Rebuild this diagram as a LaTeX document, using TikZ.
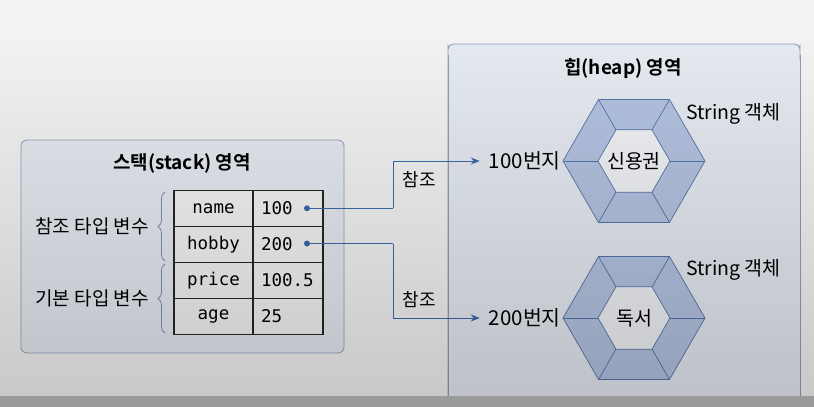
\documentclass[tikz,border=0pt]{standalone}
\usepackage{fontspec}
\setmainfont{Noto Sans CJK KR}[BoldFont={Noto Sans CJK KR Bold}]
\setmonofont{DejaVu Sans Mono}
\usetikzlibrary{decorations.pathreplacing,arrows.meta,fadings}
\definecolor{bgc}{HTML}{F2F2F2}
\definecolor{boxfill}{HTML}{E5E9F0}
\definecolor{boxline}{HTML}{8C9CB8}
\definecolor{ringfill}{HTML}{B3C2E0}
\definecolor{hexline}{HTML}{5574A6}
\definecolor{hexin}{HTML}{EFF1F4}
\definecolor{refblue}{HTML}{3A6AA8}
\definecolor{bracec}{HTML}{8090A8}
\definecolor{stripc}{HTML}{9A9A9A}
\tikzfading[name=fadedown, top color=transparent!100, bottom color=transparent!0]
\tikzset{
  area/.style={draw=boxline, fill=boxfill, rounded corners=6pt, line width=0.8pt},
  title/.style={font=\fontsize{19}{22}\selectfont\bfseries},
  cell/.style={draw=black!85, line width=1.1pt, fill=bgc, minimum height=36pt, inner sep=0pt, outer sep=0pt, font=\ttfamily\fontsize{17.5}{20}\selectfont},
  kcell/.style={cell, minimum width=79pt},
  vcell/.style={cell, text width=54pt, inner xsep=8pt, align=left},
  lbl/.style={font=\fontsize{19}{22}\selectfont, inner sep=0pt},
  rlbl/.style={font=\fontsize{18}{21}\selectfont, inner sep=0pt},
  hlbl/.style={font=\fontsize{19.5}{22}\selectfont, inner sep=0pt},
  alb/.style={font=\fontsize{20.5}{23}\selectfont, inner sep=0pt},
  hexst/.style={draw=hexline, line width=0.7pt},
  refline/.style={draw=refblue, line width=0.9pt},
  reftip/.style={refline, -{Stealth[length=9pt,width=7pt]}},
  dotst/.style={circle, fill=refblue, inner sep=0pt, minimum size=6pt},
  bracest/.style={draw=bracec, line width=0.8pt, decorate, decoration={brace, amplitude=7pt}},
}
\newcommand{\hexring}[2]{%
  \fill[ringfill] (#1) ++(0:71) \foreach \a in {60,120,...,300}{ -- ([shift={(#1)}]\a:71) } -- cycle;
  \foreach \a in {0,60,...,300}{ \draw[hexst] ([shift={(#1)}]\a:36) -- ([shift={(#1)}]\a:71); }
  \draw[hexst, fill=hexin] ([shift={(#1)}]0:36) \foreach \a in {60,120,...,300}{ -- ([shift={(#1)}]\a:36) } -- cycle;
  \draw[hexst] ([shift={(#1)}]0:71) \foreach \a in {60,120,...,300}{ -- ([shift={(#1)}]\a:71) } -- cycle;
  \node[hlbl] (#2) at (#1) {};
}
\begin{document}
\begin{tikzpicture}[x=1pt,y=-1pt]
\useasboundingbox (0,0) rectangle (814,407);
\fill[bgc] (0,0) rectangle (814,407);

% stack area
\draw[area] (21,140) rectangle (344,353);
\node[title] (stitle) at (182,163) {스택(stack) 영역};

% table
\node[kcell] (k1) at (213.5,208.5) {name};
\node[kcell] (k2) at (213.5,244.5) {hobby};
\node[kcell] (k3) at (213.5,280.5) {price};
\node[kcell] (k4) at (213.5,316.5) {age};
\node[vcell] (v1) at (288,208.5) {100};
\node[vcell] (v2) at (288,244.5) {200};
\node[vcell] (v3) at (288,280.5) {100.5};
\node[vcell] (v4) at (288,316.5) {25};

% braces
\coordinate (b1a) at (165,261);
\coordinate (b1b) at (165,192);
\coordinate (b2a) at (165,333);
\coordinate (b2b) at (165,264);
\draw[bracest] (b1a) -- (b1b);
\draw[bracest] (b2a) -- (b2b);
\node[lbl, anchor=east] (reflbl) at (149,226) {참조 타입 변수};
\node[lbl, anchor=east] (baslbl) at (149,298) {기본 타입 변수};

% heap area
\draw[area] (448,440) -- (448,50) [rounded corners=6pt] -- (448,44) -- (800,44) -- (800,50) [sharp corners] -- (800,440);
\fill[boxfill] (448.4,60) rectangle (799.6,440);
\draw[draw=boxline, line width=0.8pt] (448,55) -- (448,440) (800,55) -- (800,440);
\node[title] (htitle) at (623,69) {힙(heap) 영역};

\coordinate (hc1) at (634,161);
\coordinate (hc2) at (634,318);
\hexring{hc1}{h1}
\hexring{hc2}{h2}
\node[hlbl] (t1) at (hc1) {신용권};
\node[hlbl] (t2) at (hc2) {독서};
\node[hlbl, anchor=west] (s1) at (686,114) {String 객체};
\node[hlbl, anchor=west] (s2) at (686,270) {String 객체};
\node[alb, anchor=east] (a100) at (561,161) {100번지};
\node[alb, anchor=east] (a200) at (561,318) {200번지};

% references
\node[dotst] (d1) at (307,208.3) {};
\node[dotst] (d2) at (307,243.5) {};
\coordinate (c1) at (393,208.3);
\coordinate (c2) at (393,243.5);
\draw[refline] (d1.center) -- (c1);
\draw[reftip, shorten >=9pt] (c1) |- (a100.west);
\draw[refline] (d2.center) -- (c2);
\draw[reftip, shorten >=9pt] (c2) |- (a200.west);
\node[rlbl] (r1) at (419,180) {참조};
\node[rlbl] (r2) at (419,300) {참조};

% fade overlay and bottom strip
\fill[black, fill opacity=0.17, path fading=fadedown] (0,40) rectangle (814,396);
\fill[stripc] (0,396) rectangle (814,407);
\end{tikzpicture}
\end{document}
